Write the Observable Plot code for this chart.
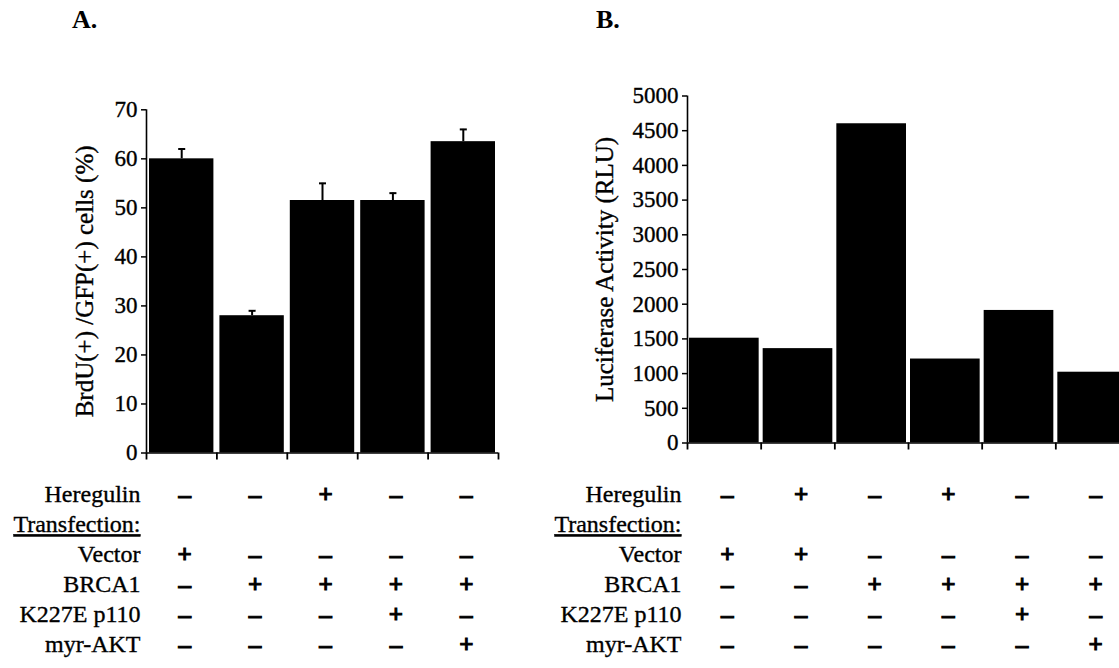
<!DOCTYPE html>
<html>
<head>
<meta charset="utf-8">
<script src="https://cdn.jsdelivr.net/npm/d3@7"></script>
<script src="https://cdn.jsdelivr.net/npm/@observablehq/plot@0.6"></script>
<style>
  html, body { margin: 0; padding: 0; background: #fff; }
  #fig { position: relative; width: 1119px; height: 668px; overflow: hidden; background: #fff; }
  #fig > svg { position: absolute; }
  #fig svg text { font-family: "Liberation Serif", "Times New Roman", serif; stroke: #000; stroke-width: 0.35px; }
  .ptitle { position: absolute; font: bold 26px/26px "Liberation Serif", serif; color: #000; }
</style>
</head>
<body>
<div id="fig"></div>
<script>
// ---------- Panel A data ----------
const conditionsA = ["Vector", "BRCA1", "BRCA1 + Heregulin", "BRCA1 + K227E p110", "BRCA1 + myr-AKT"];
const brduA = [60, 28, 51.5, 51.5, 63.5];
const brduErrA = [2, 1, 3.5, 1.5, 2.5];
const yTicksA = [0, 10, 20, 30, 40, 50, 60, 70];
const yLabelA = "BrdU(+) /GFP(+) cells (%)";

// ---------- Panel B data ----------
const conditionsB = ["Vector", "Vector + Heregulin", "BRCA1", "BRCA1 + Heregulin", "BRCA1 + K227E p110", "BRCA1 + myr-AKT"];
const luciferaseB = [1510, 1360, 4600, 1210, 1910, 1020];
const yTicksB = [0, 500, 1000, 1500, 2000, 2500, 3000, 3500, 4000, 4500, 5000];
const yLabelB = "Luciferase Activity (RLU)";

// ---------- Treatment tables ----------
const rowLabels = ["Heregulin", "Transfection:", "Vector", "BRCA1", "K227E p110", "myr-AKT"];
const heregulinA = ["–", "–", "+", "–", "–"];
const vectorA    = ["+", "–", "–", "–", "–"];
const brca1A     = ["–", "+", "+", "+", "+"];
const k227eA     = ["–", "–", "–", "+", "–"];
const myrAktA    = ["–", "–", "–", "–", "+"];

const heregulinB = ["–", "+", "–", "+", "–", "–"];
const vectorB    = ["+", "+", "–", "–", "–", "–"];
const brca1B     = ["–", "–", "+", "+", "+", "+"];
const k227eB     = ["–", "–", "–", "–", "+", "–"];
const myrAktB    = ["–", "–", "–", "–", "–", "+"];

const FONT = "Liberation Serif, Times New Roman, serif";
const fig = document.getElementById("fig");

function place(svg, left, top) {
  svg.style.left = left + "px";
  svg.style.top = top + "px";
  fig.appendChild(svg);
}

function barChart(o) {
  const n = o.values.length;
  const data = o.values.map((v, i) => ({i, v, e: o.errors ? o.errors[i] : null, name: o.names[i]}));
  const marks = [
    Plot.rectY(data, {x1: "i", x2: d => d.i + 1, y: "v", fill: "black", insetLeft: o.inset, insetRight: o.inset}),
    Plot.ruleX([0], {stroke: "black", strokeWidth: 1.6}),
    Plot.ruleY([0], {stroke: "black", strokeWidth: 1.6}),
    Plot.axisY({ticks: o.ticks, tickSize: 5, tickPadding: 4, tickFormat: d => String(d), fontSize: 23, fontFamily: FONT, label: null, strokeWidth: 1.5}),
    Plot.axisX({ticks: d3.range(n + 1), tickSize: 7, tickFormat: () => "", label: null, strokeWidth: 1.8}),
    Plot.text([o.label], {frameAnchor: "left", rotate: -90, dx: -o.labelOffset, textAnchor: "middle", lineAnchor: "top", fontSize: 25, fontFamily: FONT, fill: "black"})
  ];
  if (o.errors) {
    marks.push(
      Plot.ruleX(data, {x: d => d.i + 0.5, y1: "v", y2: d => d.v + d.e, stroke: "black", strokeWidth: 2}),
      Plot.link(data, {x1: d => d.i + 0.45, x2: d => d.i + 0.55, y1: d => d.v + d.e, y2: d => d.v + d.e, stroke: "black", strokeWidth: 2})
    );
  }
  return Plot.plot({
    width: o.width, height: o.height,
    marginLeft: o.marginLeft, marginRight: o.marginRight,
    marginTop: o.marginTop, marginBottom: o.marginBottom,
    style: {fontFamily: FONT, fontSize: "23px", color: "black", background: "white", overflow: "visible"},
    x: {domain: [0, n], axis: null},
    y: {domain: [o.ticks[0], o.ticks[o.ticks.length - 1]], axis: null},
    marks
  });
}

function treatmentTable(o) {
  const n = o.rows[0].length;
  const rowsWithSyms = [rowLabels[0], rowLabels[2], rowLabels[3], rowLabels[4], rowLabels[5]];
  const data = [];
  o.rows.forEach((syms, r) => syms.forEach((s, c) => data.push({row: rowsWithSyms[r], col: c, sym: s})));
  const svg = Plot.plot({
    width: o.width, height: 198,
    marginLeft: o.marginLeft, marginRight: o.marginRight,
    marginTop: 24.3, marginBottom: 23.7,
    style: {fontFamily: FONT, fontSize: "24px", color: "black", background: "white", overflow: "visible"},
    x: {domain: [0, n], axis: null},
    y: {type: "point", domain: rowLabels, padding: 0, axis: null},
    marks: [
      Plot.axisY({tickSize: 0, tickPadding: 6, fontSize: 24, fontFamily: FONT, label: null}),
      Plot.text(data, {x: d => d.col + 0.5, y: "row", text: "sym", dx: 3, fontSize: 25, fontWeight: "bold", fontFamily: FONT, fill: "black"})
    ]
  });
  const sel = d3.select(svg).selectAll("text");
  sel.filter(function () { return this.textContent === "Transfection:"; })
    .attr("text-decoration", "underline");
  sel.filter(function () { return this.textContent === "+" || this.textContent === "–"; })
    .style("stroke-width", "1.1px");
  return svg;
}

// Panel A
place(barChart({
  values: brduA, errors: brduErrA, names: conditionsA, ticks: yTicksA, label: yLabelA,
  width: 520, height: 470, marginLeft: 146, marginRight: 22, marginTop: 109.3, marginBottom: 17.5,
  inset: 3, labelOffset: 71
}), 0, 0);
place(treatmentTable({
  rows: [heregulinA, vectorA, brca1A, k227eA, myrAktA],
  width: 520, marginLeft: 146, marginRight: 22
}), 0, 470);

// Panel B
place(barChart({
  values: luciferaseB, errors: null, names: conditionsB, ticks: yTicksB, label: yLabelB,
  width: 580, height: 460, marginLeft: 127, marginRight: 11, marginTop: 95.5, marginBottom: 17.5,
  inset: 2, labelOffset: 92
}), 560, 0);
place(treatmentTable({
  rows: [heregulinB, vectorB, brca1B, k227eB, myrAktB],
  width: 580, marginLeft: 127, marginRight: 11
}), 560, 470);

// Panel titles
for (const [t, left] of [["A.", 72], ["B.", 596]]) {
  const d = document.createElement("div");
  d.className = "ptitle";
  d.textContent = t;
  d.style.left = left + "px";
  d.style.top = "7px";
  fig.appendChild(d);
}
</script>
</body>
</html>
